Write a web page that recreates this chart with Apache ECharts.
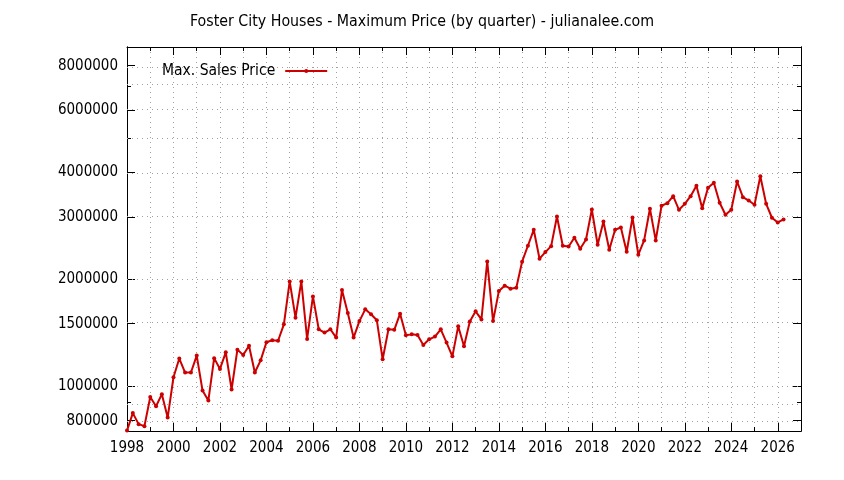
<!DOCTYPE html>
<html>
<head>
<meta charset="utf-8">
<script src="https://cdn.jsdelivr.net/npm/echarts@6/dist/echarts.min.js"></script>
<style>
  html, body { margin: 0; padding: 0; background: #fff; }
  #chart { width: 844px; height: 480px; }
</style>
</head>
<body>
<div id="chart"></div>
<script>
// quarterly maximum sale price, 4 values per year starting 1998 Q1
var startYear = 1998;
var prices = [
  750000, 840000, 782000, 772000,      // 1998
  933000, 878000, 950000, 816000,      // 1999
  1060000, 1197000, 1093000, 1093000,  // 2000
  1220000, 972000, 911000, 1200000,    // 2001
  1119000, 1246000, 979000, 1268000,   // 2002
  1225000, 1300000, 1093000, 1183000,  // 2003
  1330000, 1347000, 1343000, 1494000,  // 2004
  1974000, 1560000, 1974000, 1359000,  // 2005
  1791000, 1447000, 1416000, 1447000,  // 2006
  1371000, 1866000, 1608000, 1371000,  // 2007
  1526000, 1647000, 1595000, 1534000,  // 2008
  1191000, 1447000, 1442000, 1601000,  // 2009
  1392000, 1400000, 1395000, 1307000,  // 2010
  1356000, 1380000, 1447000, 1327000,  // 2011
  1214000, 1475000, 1296000, 1521000,  // 2012
  1626000, 1543000, 2247000, 1526000,  // 2013
  1854000, 1920000, 1883000, 1895000,  // 2014
  2243000, 2488000, 2759000, 2287000,  // 2015
  2387000, 2481000, 3008000, 2488000,  // 2016
  2476000, 2620000, 2440000, 2591000,  // 2017
  3147000, 2504000, 2912000, 2425000,  // 2018
  2759000, 2801000, 2393000, 2988000,  // 2019
  2347000, 2575000, 3162000, 2575000,  // 2020
  3224000, 3279000, 3430000, 3141000,  // 2021
  3265000, 3430000, 3670000, 3175000,  // 2022
  3622000, 3742000, 3287000, 3042000,  // 2023
  3141000, 3774000, 3408000, 3336000,  // 2024
  3245000, 3905000, 3265000, 2983000,  // 2025
  2894000, 2950000                     // 2026
];

var yMajorTicks = [800000, 1000000, 1500000, 2000000, 3000000, 4000000, 6000000, 8000000];
var yMinorTicks = [900000, 5000000, 7000000];
var yMin = 748000, yMax = 9030000;
var xMin = 1998, xMax = 2027;

var FONT = "'DejaVu Sans Condensed', 'Liberation Sans', sans-serif";
var grid = { color: '#a0a0a0', width: 1, type: [1, 4] };

function lg(v) { return Math.log10(v); }

// [x in years, log10(price)] for a log y scale
var seriesData = prices.map(function (p, i) {
  return [startYear + Math.floor(i / 4) + (i % 4) / 4, lg(p)];
});

function yAxisCfg(pos, ticks, len, labels) {
  return {
    type: 'value',
    position: pos,
    min: lg(yMin),
    max: lg(yMax),
    axisLine: { show: true, lineStyle: { color: '#000', width: 1 } },
    axisTick: {
      show: true, inside: true, length: len,
      customValues: ticks.map(lg),
      lineStyle: { color: '#000', width: 1 }
    },
    axisLabel: {
      show: labels,
      customValues: ticks.map(lg),
      margin: 9,
      color: '#000',
      fontSize: 15,
      fontFamily: FONT,
      formatter: function (v) { return String(Math.round(Math.pow(10, v))); }
    },
    splitLine: { show: false }
  };
}

function xAxisCfg(pos, labels, split) {
  return {
    type: 'value',
    position: pos,
    min: xMin,
    max: xMax,
    interval: 2,
    axisLine: { show: true, lineStyle: { color: '#000', width: 1 } },
    axisTick: { show: true, inside: true, length: 8, lineStyle: { color: '#000' } },
    minorTick: { show: true, splitNumber: 2, length: 4, lineStyle: { color: '#000' } },
    axisLabel: {
      show: labels, margin: 10, color: '#000', fontSize: 15, fontFamily: FONT,
      showMaxLabel: false,
      formatter: function (v) { return String(v); }
    },
    splitLine: { show: split, lineStyle: grid },
    minorSplitLine: { show: split, lineStyle: grid }
  };
}

// horizontal grid at every y tick (major and minor)
var yGridLines = yMajorTicks.concat(yMinorTicks).map(function (v) {
  return { yAxis: lg(v) };
});

var chart = echarts.init(document.getElementById('chart'));
chart.setOption({
  animation: false,
  backgroundColor: '#fff',
  title: {
    text: 'Foster City Houses - Maximum Price (by quarter) - julianalee.com',
    left: 'center',
    top: 9,
    textStyle: { color: '#000', fontSize: 15.8, fontWeight: 'normal', fontFamily: FONT }
  },
  legend: {
    data: ['Max. Sales Price'],
    left: 157,
    top: 58,
    align: 'right',
    itemWidth: 42,
    itemHeight: 5,
    textStyle: { color: '#000', fontSize: 15.5, fontFamily: FONT, padding: [0, 5, 0, 0] }
  },
  grid: { left: 127, right: 43, top: 47, bottom: 49 },
  xAxis: [
    xAxisCfg('bottom', true, true),
    xAxisCfg('top', false, false)
  ],
  yAxis: [
    yAxisCfg('left', yMajorTicks, 8, true),
    yAxisCfg('left', yMinorTicks, 4, false),
    yAxisCfg('right', yMajorTicks, 8, false),
    yAxisCfg('right', yMinorTicks, 4, false)
  ],
  series: [
    {
      name: 'Max. Sales Price',
      type: 'line',
      xAxisIndex: 0,
      yAxisIndex: 0,
      data: seriesData,
      symbol: 'circle',
      symbolSize: 4,
      showSymbol: true,
      clip: true,
      color: '#cc0000',
      lineStyle: { color: '#cc0000', width: 2 },
      itemStyle: { color: '#cc0000' },
      markLine: {
        silent: true,
        z: 1,
        symbol: 'none',
        label: { show: false },
        lineStyle: grid,
        emphasis: { disabled: true },
        data: yGridLines
      }
    }
  ]
});
</script>
</body>
</html>
